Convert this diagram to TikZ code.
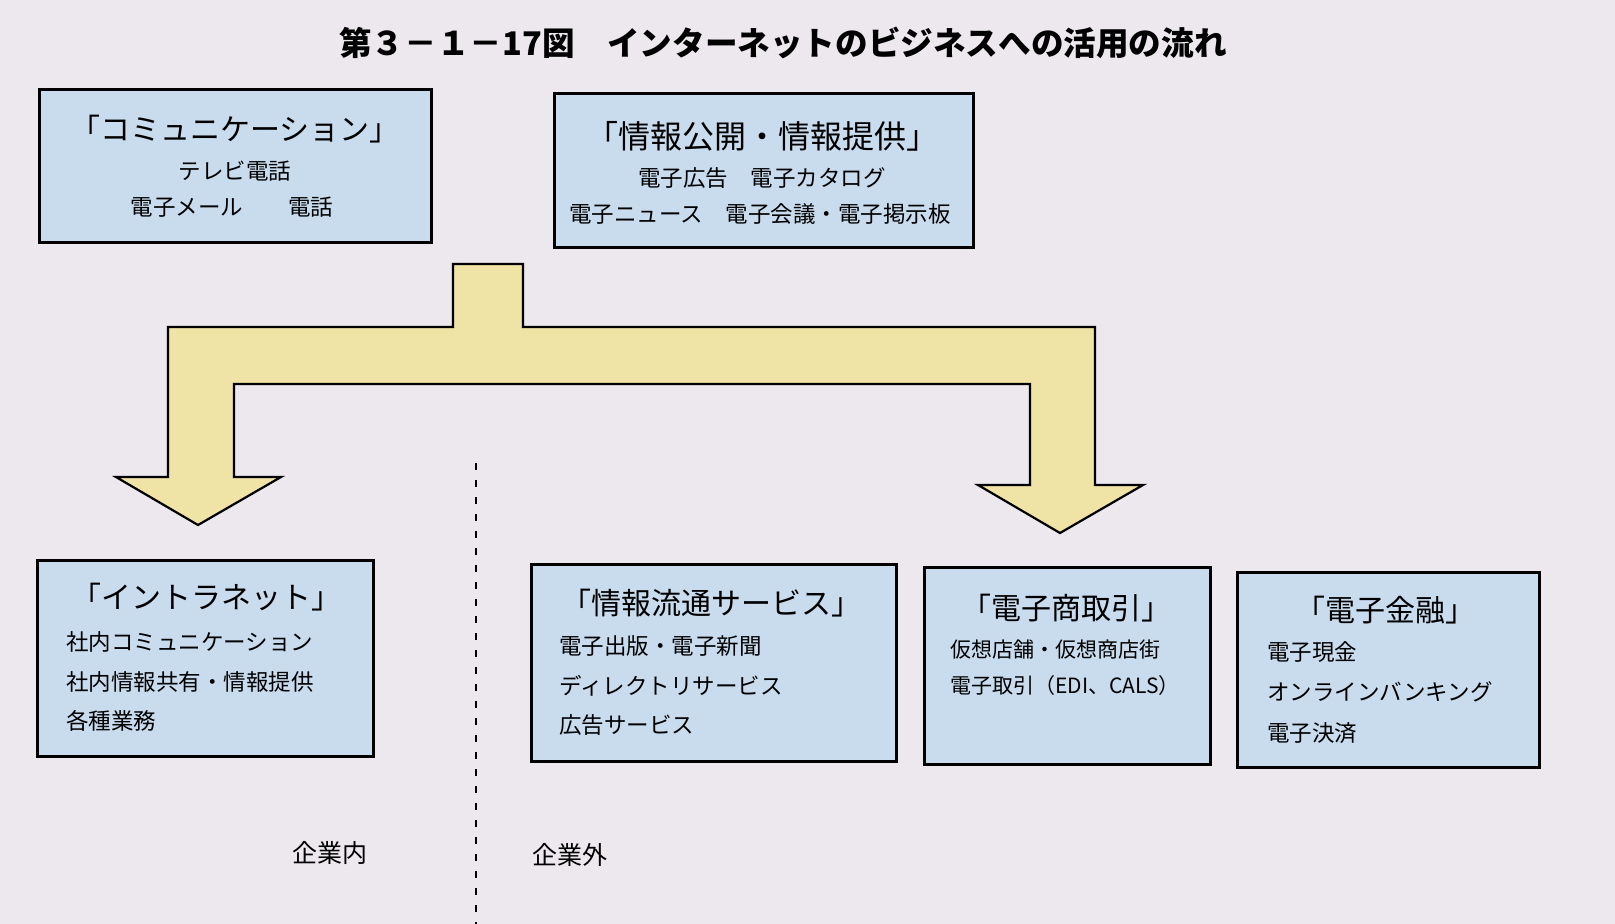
\documentclass[tikz,border=0pt]{standalone}
\usepackage{fontspec}
\setmainfont{Noto Sans CJK JP}
\definecolor{bgc}{HTML}{EDE8EE}
\definecolor{boxc}{HTML}{C8DCEE}
\definecolor{arrc}{HTML}{EFE3A5}
\tikzset{
  box/.style={draw=black, line width=3pt, fill=boxc, inner sep=0pt},
  head/.style={inner sep=0pt, font=\fontsize{30}{34}\selectfont},
  line/.style={inner sep=0pt, font=\fontsize{22.5}{26}\selectfont},
  side/.style={inner sep=0pt, font=\fontsize{25}{29}\selectfont},
  bigarrow/.style={draw=black, line width=2.2pt, fill=arrc, line join=miter},
}
\begin{document}
\begin{tikzpicture}[x=1pt,y=-1pt]
\useasboundingbox (0,0) rectangle (1615,924);
\fill[bgc] (0,0) rectangle (1615,924);

% title
\node[inner sep=0pt, font=\fontsize{32.6}{37}\selectfont\bfseries] (title) at (783,43) {第３－１－17図　インターネットのビジネスへの活用の流れ};

% top boxes
\node[box, minimum width=392, minimum height=153] (b1) at (235,165.5) {};
\node[head] (b1h) at (235,129) {「コミュニケーション」};
\node[line] (b1l1) at (235,171) {テレビ電話};
\node[line] (b1l2) at (232,207) {電子メール　　電話};

\node[box, minimum width=419, minimum height=154] (b2) at (763.5,170) {};
\node[head, font=\fontsize{32}{36}\selectfont] (b2h) at (762,136) {「情報公開・情報提供」};
\node[line] (b2l1) at (762,178) {電子広告　電子カタログ};
\node[line] (b2l2) at (760,214) {電子ニュース　電子会議・電子掲示板};

% big branching arrow
\draw[bigarrow] (453,264) -- (523,264) -- (523,327) -- (1095,327) -- (1095,485)
  -- (1143,485) -- (1060,533) -- (978,485) -- (1030,485) -- (1030,384)
  -- (234,384) -- (234,477) -- (281,477) -- (198,525) -- (116,477)
  -- (168,477) -- (168,327) -- (453,327) -- cycle;

% divider
\coordinate (d1) at (476,463);
\coordinate (d2) at (476,924);
\draw[line width=2.5pt, dash pattern=on 7pt off 10pt] (d1) -- (d2);
\node[side] (inside) at (330,853) {企業内};
\node[side] (outside) at (570,855) {企業外};

% bottom boxes
\node[box, minimum width=336, minimum height=196] (b3) at (205,658) {};
\node[head] (b3h) at (206,597) {「イントラネット」};
\node[line, anchor=west] (b3l1) at (66,642) {社内コミュニケーション};
\node[line, anchor=west] (b3l2) at (66,682) {社内情報共有・情報提供};
\node[line, anchor=west] (b3l3) at (66,721) {各種業務};

\node[box, minimum width=365, minimum height=197] (b4) at (713.5,662.5) {};
\node[head] (b4h) at (711,603) {「情報流通サービス」};
\node[line, anchor=west] (b4l1) at (559,646) {電子出版・電子新聞};
\node[line, anchor=west] (b4l2) at (559,686) {ディレクトリサービス};
\node[line, anchor=west] (b4l3) at (559,725) {広告サービス};

\node[box, minimum width=286, minimum height=197] (b5) at (1067,665.5) {};
\node[head] (b5h) at (1066,608) {「電子商取引」};
\node[line, anchor=west, font=\fontsize{21}{25}\selectfont] (b5l1) at (950,650) {仮想店舗・仮想商店街};
\node[line, anchor=west, font=\fontsize{21}{25}\selectfont] (b5l2) at (950,686) {電子取引（EDI、CALS）};

\node[box, minimum width=302, minimum height=195] (b6) at (1388,669.5) {};
\node[head] (b6h) at (1385,610) {「電子金融」};
\node[line, anchor=west] (b6l1) at (1267,652) {電子現金};
\node[line, anchor=west] (b6l2) at (1267,692) {オンラインバンキング};
\node[line, anchor=west] (b6l3) at (1267,733) {電子決済};
\end{tikzpicture}
\end{document}
